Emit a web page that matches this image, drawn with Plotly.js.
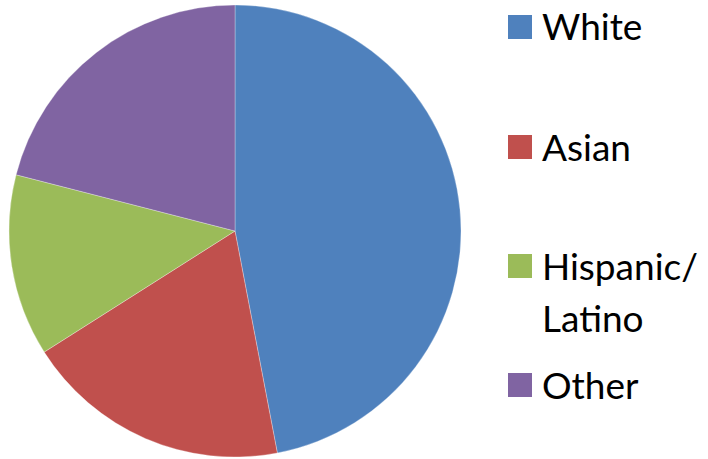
<!DOCTYPE html>
<html>
<head>
<meta charset="utf-8">
<script src="https://cdn.plot.ly/plotly-3.0.1.min.js"></script>
<style>
  html, body { margin: 0; padding: 0; background: #ffffff; }
  #chart { width: 708px; height: 459px; }
</style>
</head>
<body>
<div id="chart"></div>
<script>
// Share of students by group
const groups = ["White", "Asian", "Hispanic/<br>Latino", "Other"];
const shares = [47, 19, 13, 21];
const colors = ["#4F81BD", "#C0504D", "#9BBB59", "#8064A2"];

const W = 708, H = 459;

// Custom legend: squares with labels stacked down the right side
const legendTop = [15, 135, 254, 373];   // top of each swatch, px
const swatch = 24;
const lineGap = 52;
const shapes = [];
const annotations = [];
groups.forEach((g, i) => {
  const y0 = legendTop[i];
  shapes.push({
    type: "rect", xref: "paper", yref: "paper",
    x0: 508 / W, x1: (508 + swatch) / W,
    y0: 1 - (y0 + swatch) / H, y1: 1 - y0 / H,
    fillcolor: colors[i], line: { width: 0 }
  });
  g.split("<br>").forEach((line, k) => {
    annotations.push({
      xref: "paper", yref: "paper",
      x: 540 / W, y: 1 - (y0 + swatch / 2 - 1 + k * lineGap) / H,
      xanchor: "left", yanchor: "middle",
      text: line, showarrow: false,
      font: { family: "Lato, 'Open Sans', sans-serif", size: 37, color: "#000000" }
    });
  });
});

const data = [{
  type: "pie",
  labels: groups.map(g => g.replace("<br>", "")),
  values: shares,
  sort: false,
  direction: "clockwise",
  rotation: 0,
  textinfo: "none",
  marker: { colors: colors, line: { color: "#ffffff", width: 0.3 } },
  domain: { x: [9 / W, 461 / W], y: [2 / H, 454 / H] },
  showlegend: false
}];

const layout = {
  width: W, height: H,
  margin: { l: 0, r: 0, t: 0, b: 0 },
  paper_bgcolor: "#ffffff",
  showlegend: false,
  shapes: shapes,
  annotations: annotations
};

Plotly.newPlot("chart", data, layout, { displayModeBar: false, staticPlot: true });
</script>
</body>
</html>
